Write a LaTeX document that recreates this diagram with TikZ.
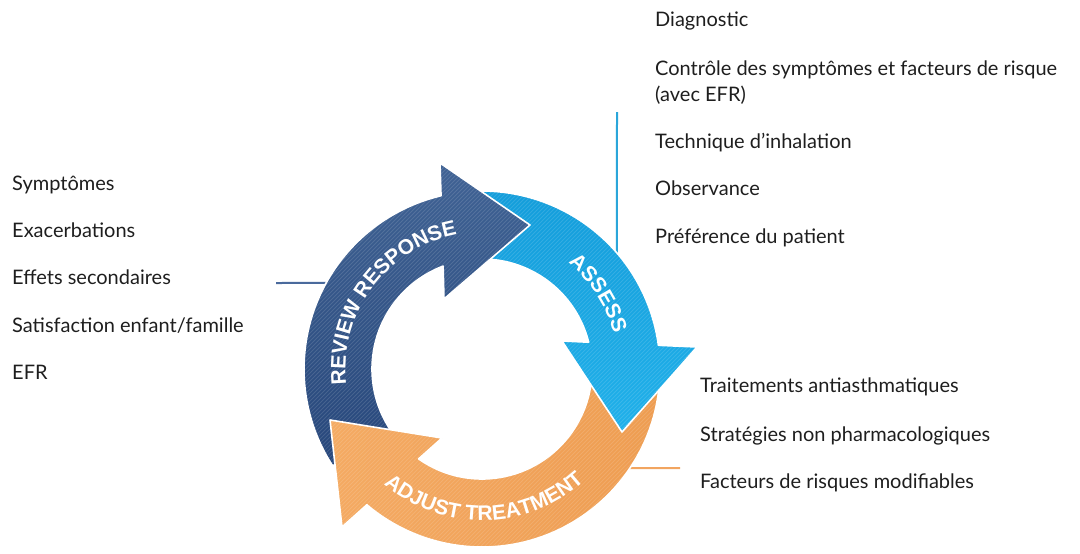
\documentclass[tikz,border=0pt]{standalone}
\usepackage{fontspec}
\setmainfont{Lato}
\newfontfamily\arrowfont{Liberation Sans}
\usetikzlibrary{decorations.text,calc}
\definecolor{txt}{HTML}{1E1E1E}
\definecolor{darkTop}{HTML}{3F6294}
\definecolor{darkBot}{HTML}{26467A}
\definecolor{blueTop}{HTML}{129CDA}
\definecolor{blueBot}{HTML}{1FB0EA}
\definecolor{orTop}{HTML}{F4AA62}
\definecolor{orBot}{HTML}{EE9C50}
\definecolor{lineDark}{HTML}{4A6A9C}
\definecolor{lineBlue}{HTML}{2AA6DA}
\definecolor{lineOr}{HTML}{F2A560}
\def\pathdark{(213:178) arc[start angle=213, end angle=103.3, radius=178] -- (-42,206) -- (48,144) -- (-38,70) -- (110.7:110) arc[start angle=110.7, end angle=213, radius=110] -- cycle}
\def\pathblue{(100:178) arc[start angle=100, end angle=7.65, radius=178] -- (215,22) -- (140,-63) -- (80,28) -- (14.1:110) arc[start angle=14.1, end angle=100, radius=110] -- cycle}
\def\pathorange{(-4:178) arc[start angle=-4, end angle=-130.3, radius=178] -- (-140,-158) -- (-152,-51) -- (-40,-69) -- (-125.2:110) arc[start angle=-125.2, end angle=-4, radius=110] -- cycle}
\newcommand\mystripes{\foreach \k in {-460,-456,...,460} {\draw[stripe] (\k-240,-240) -- (\k+240,240);}}
\begin{document}
\begin{tikzpicture}[x=1pt,y=1pt,
  item/.style={anchor=base west, inner sep=0pt, font=\fontsize{20}{23}\selectfont, text=txt},
  link/.style={line width=2pt},
  stripe/.style={white, line width=0.8pt, opacity=0.13},
  ringarrow/.style={draw=white, line width=1.6pt, line join=round},
  darkarrow/.style={top color=darkTop, bottom color=darkBot},
  bluearrow/.style={top color=blueTop, bottom color=blueBot},
  orangearrow/.style={left color=orTop, right color=orBot},
  ringtext/.style={decorate, decoration={text along path, text align=center,
     text={|\arrowfont\bfseries\fontsize{21}{21}\selectfont\color{white}|#1}}}
]
\useasboundingbox (0,0) rectangle (1080,-554);

% left list
\node[item] (r1) at (12,-190) {Symptômes};
\node[item] (r2) at (12,-237) {Exacerbations};
\node[item] (r3) at (12,-284) {Effets secondaires};
\node[item] (r4) at (12,-332) {Satisfaction enfant/famille};
\node[item] (r5) at (12,-379) {EFR};

% top right list
\node[item] (a1) at (655,-26.7) {Diagnostic};
\node[item] (a2) at (655,-75) {Contrôle des symptômes et facteurs de risque};
\node[item] (a3) at (655,-101.5) {(avec EFR)};
\node[item] (a4) at (655,-148.5) {Technique d’inhalation};
\node[item] (a5) at (655,-195.5) {Observance};
\node[item] (a6) at (655,-243) {Préférence du patient};

% bottom right list
\node[item] (t1) at (700,-392) {Traitements antiasthmatiques};
\node[item] (t2) at (700,-441) {Stratégies non pharmacologiques};
\node[item] (t3) at (700,-488) {Facteurs de risques modifiables};

% connectors
\coordinate (C) at (482,-369);
\coordinate (lL) at (276,-283);
\coordinate (lLr) at ($(C)+(151.1:178)$);
\coordinate (lT) at (617,-112);
\coordinate (lTr) at ($(C)+(40.7:178)$);
\coordinate (lB) at (680,-468);
\coordinate (lBr) at ($(C)+(-33.8:178)$);
\draw[link, lineDark] (lL) -- (lLr);
\draw[link, lineBlue] (lT) -- (lTr);
\draw[link, lineOr] (lB) -- (lBr);

% cycle
\begin{scope}[shift={(C)}]
  % review response (dark)
  \path[darkarrow] \pathdark;
  \begin{scope} \clip \pathdark; \mystripes \end{scope}
  \path[ringarrow] \pathdark;
  % adjust treatment (orange)
  \path[orangearrow] \pathorange;
  \begin{scope} \clip \pathorange; \mystripes \end{scope}
  \path[ringarrow] \pathorange;
  % assess (blue)
  \path[bluearrow] \pathblue;
  \begin{scope} \clip \pathblue; \mystripes \end{scope}
  \path[ringarrow] \pathblue;
  % dark head on top of the blue tail
  \begin{scope}
    \clip (-200,0) rectangle (200,230);
    \path[darkarrow] \pathdark;
    \begin{scope} \clip \pathdark; \mystripes \end{scope}
    \path[ringarrow] \pathdark;
  \end{scope}
  \path[ringtext=REVIEW RESPONSE] (200.5:136.5) arc[start angle=200.5, end angle=86.5, radius=136.5];
  \path[ringtext=ASSESS] (73:136.5) arc[start angle=73, end angle=-7, radius=136.5];
  \path[ringtext=ADJUST TREATMENT] (211:151.5) arc[start angle=211, end angle=331, radius=151.5];
\end{scope}
\end{tikzpicture}
\end{document}
